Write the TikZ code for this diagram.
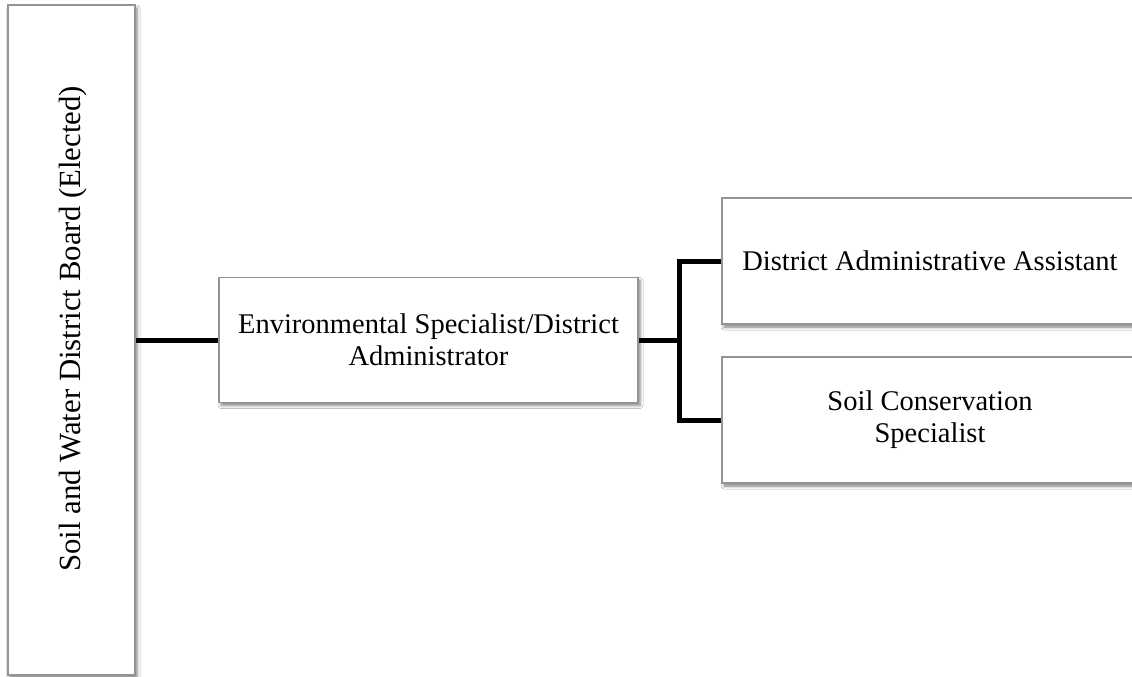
\documentclass[tikz,border=0pt]{standalone}
\usepackage{fontspec}
\setmainfont{Liberation Serif}
\usetikzlibrary{shadows.blur}
\tikzset{
  box/.style={draw=black!42, line width=1.5pt, fill=white, rectangle, inner sep=0pt,
    align=center, font=\fontsize{28.5}{32}\selectfont,
    blur shadow={shadow xshift=2pt, shadow yshift=-3pt, shadow blur radius=3pt, shadow opacity=50}},
  link/.style={line width=5pt, black, line join=miter}
}
\begin{document}
\begin{tikzpicture}[x=1pt,y=-1pt]
\useasboundingbox (0,0) rectangle (1132,677);
\clip (0,0) rectangle (1132,677);
\fill[white] (0,0) rectangle (1132,677);
\node[box, minimum width=127pt, minimum height=670pt] (board) at (71.5,340) {};
\node[rotate=90, inner sep=0pt, font=\fontsize{30.8}{34}\selectfont] (boardtext) at (73,329) {Soil and Water District Board (Elected)};
\node[box, minimum width=419pt, minimum height=125pt] (admin) at (428.5,340) {Environmental Specialist/District\\Administrator};
\node[box, minimum width=416pt, minimum height=126pt] (assist) at (930,261) {District Administrative Assistant};
\node[box, minimum width=416pt, minimum height=126pt] (cons) at (930,420) {Soil Conservation\\Specialist};
\coordinate (br) at (679,340);
\draw[link] (board.east) -- (admin.west);
\draw[link] (admin.east) -- (br);
\draw[link] (assist.west) -| (br) |- (cons.west);
\end{tikzpicture}
\end{document}
